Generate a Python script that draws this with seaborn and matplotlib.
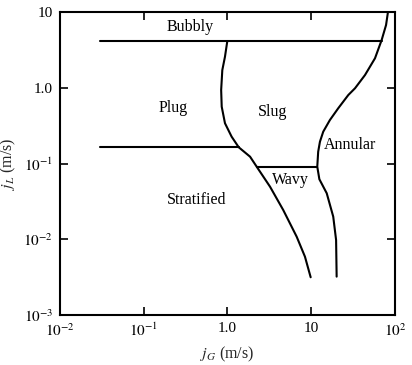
import matplotlib
matplotlib.use("Agg")
import matplotlib.pyplot as plt
import seaborn as sns
from matplotlib.ticker import FixedLocator, FixedFormatter, NullLocator

# ---- data ----
bubbly_x = [0.03, 69.3]
bubbly_y = [4.14, 4.14]

plug_x = [0.03, 1.36]
plug_y = [0.164, 0.164]

wavy_x = [2.23, 11.8]
wavy_y = [0.0908, 0.0908]

slug_left_x = [0.995, 0.933, 0.867, 0.840, 0.853, 0.933, 1.12, 1.36, 1.86,
               2.23, 3.22, 4.63, 6.70, 8.41, 9.84]
slug_left_y = [4.14, 2.57, 1.71, 0.933, 0.562, 0.340, 0.226, 0.164, 0.123,
               0.0908, 0.0494, 0.0243, 0.0108, 0.00589, 0.00315]

annular_x = [82.4, 78.2, 69.3, 57.7, 43.8, 33.3, 27.7, 21.0, 16.7, 13.9,
             12.7, 12.1, 11.8, 12.5, 15.3, 18.3, 19.8, 20.1]
annular_y = [10.0, 6.73, 4.27, 2.45, 1.47, 0.984, 0.802, 0.536, 0.375, 0.263,
             0.194, 0.143, 0.0908, 0.062, 0.0405, 0.0199, 0.00977, 0.00321]

region_names = ["Bubbly", "Plug", "Slug", "Annular", "Wavy", "Stratified"]
region_x = [0.356, 0.223, 3.49, 29.0, 5.57, 0.428]
region_y = [6.4, 0.54, 0.48, 0.175, 0.0605, 0.033]

x_ticks = [0.01, 0.1, 1.0, 10, 100]
x_tick_labels = [r"$10^{-2}$", r"$10^{-1}$", "1.0", "10", r"$10^{2}$"]
y_ticks = [0.001, 0.01, 0.1, 1.0, 10]
y_tick_labels = [r"$10^{-3}$", r"$10^{-2}$", r"$10^{-1}$", "1.0", "10"]

# ---- style ----
sns.set_theme(style="ticks")
plt.rcParams["font.family"] = ["Liberation Serif", "DejaVu Serif"]
plt.rcParams["mathtext.fontset"] = "stix"

fig = plt.figure(figsize=(4.12, 3.65), dpi=100)
ax = fig.add_axes([60 / 412, 1 - 315 / 365, 335 / 412, 303 / 365])

lw = 1.5
for xs, ys in [(bubbly_x, bubbly_y), (plug_x, plug_y), (wavy_x, wavy_y),
               (slug_left_x, slug_left_y), (annular_x, annular_y)]:
    sns.lineplot(x=xs, y=ys, ax=ax, sort=False, estimator=None,
                 color="black", linewidth=lw)

ax.set_xscale("log")
ax.set_yscale("log")
ax.set_xlim(0.01, 100)
ax.set_ylim(0.001, 10)

ax.xaxis.set_major_locator(FixedLocator(x_ticks))
ax.xaxis.set_major_formatter(FixedFormatter(x_tick_labels))
ax.yaxis.set_major_locator(FixedLocator(y_ticks))
ax.yaxis.set_major_formatter(FixedFormatter(y_tick_labels))
ax.xaxis.set_minor_locator(NullLocator())
ax.yaxis.set_minor_locator(NullLocator())

ax.tick_params(which="major", direction="in", length=6, width=1.2,
               top=True, right=True, labelsize=11, colors="black", pad=5)

for sp in ax.spines.values():
    sp.set_visible(True)
    sp.set_linewidth(1.5)
    sp.set_color("black")

for name, tx, ty in zip(region_names, region_x, region_y):
    ax.text(tx, ty, name, ha="center", va="center", fontsize=11.5, color="black")

ax.set_xlabel(r"$j_G$ (m/s)", fontsize=11.5, labelpad=4)
ax.set_ylabel(r"$j_L$ (m/s)", fontsize=11.5, labelpad=4)

fig.savefig("out.png", dpi=100)
